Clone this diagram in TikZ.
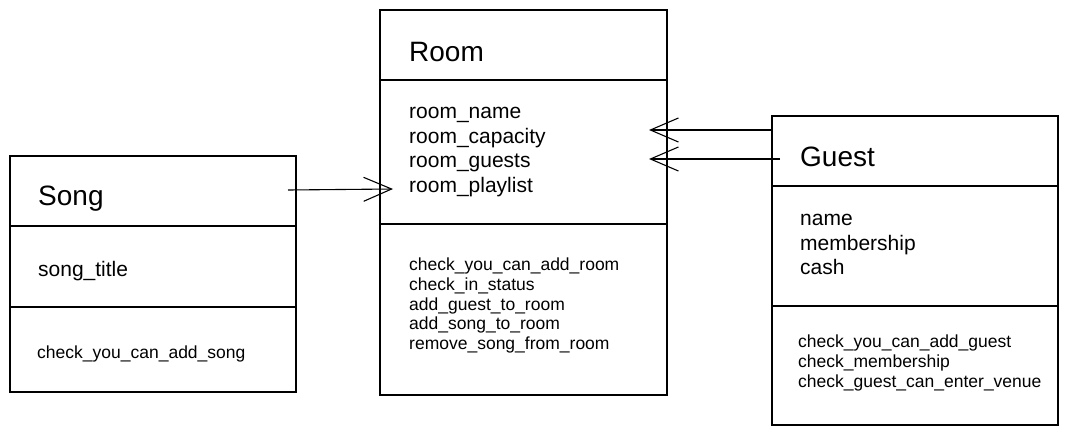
\documentclass[tikz,border=0pt]{standalone}
\usepackage{fontspec}
\setmainfont{Liberation Sans}
\usetikzlibrary{arrows.meta}
\begin{document}
\begin{tikzpicture}[x=1pt,y=-1pt,
  sect/.style={draw, rectangle, inner sep=0pt, outer sep=0pt, line width=1.2pt, anchor=north west},
  ttl/.style={anchor=west, inner sep=0pt, font=\fontsize{28}{30}\selectfont},
  attr/.style={anchor=west, inner sep=0pt, align=left, font=\fontsize{21}{24.5}\selectfont},
  meth/.style={anchor=west, inner sep=0pt, align=left, font=\fontsize{17.5}{19.6}\selectfont},
  arr/.style={line width=1.1pt, -{Straight Barb[length=28pt, width=24pt, line width=1.1pt]}}]
\useasboundingbox[fill=white] (0,0) rectangle (1067,436);
% Song
\node[sect, minimum width=286pt, minimum height=70pt] (songH) at (10,156) {};
\node[sect, minimum width=286pt, minimum height=81pt] (songA) at (10,226) {};
\node[sect, minimum width=286pt, minimum height=85pt] (songM) at (10,307) {};
\node[ttl] (songT) at (38,199) {Song};
\node[attr] (songAt) at (38,271) {song\_title};
\node[meth] (songMt) at (37,354) {check\_you\_can\_add\_song};
% Room
\node[sect, minimum width=287pt, minimum height=70pt] (roomH) at (380,10) {};
\node[sect, minimum width=287pt, minimum height=144pt] (roomA) at (380,80) {};
\node[sect, minimum width=287pt, minimum height=171pt] (roomM) at (380,224) {};
\node[ttl] (roomT) at (409,52) {Room};
\node[attr] (roomAt) at (409,152) {room\_name\\room\_capacity\\room\_guests\\room\_playlist};
\node[meth] (roomMt) at (409,305.5) {check\_you\_can\_add\_room\\check\_in\_status\\add\_guest\_to\_room\\add\_song\_to\_room\\remove\_song\_from\_room};
% Guest
\node[sect, minimum width=286pt, minimum height=70pt] (guestH) at (772,116) {};
\node[sect, minimum width=286pt, minimum height=120pt] (guestA) at (772,186) {};
\node[sect, minimum width=286pt, minimum height=119pt] (guestM) at (772,306) {};
\node[ttl] (guestT) at (800,157) {Guest};
\node[attr] (guestAt) at (800,244.5) {name\\membership\\cash};
\node[meth] (guestMt) at (798,363) {check\_you\_can\_add\_guest\\check\_membership\\check\_guest\_can\_enter\_venue};
% connectors
\coordinate (s1) at (288,190);
\coordinate (r1) at (393,189);
\coordinate (g1) at (773,130);
\coordinate (r2) at (649,130);
\coordinate (g2) at (780,159);
\coordinate (r3) at (649,159);
\draw[arr] (s1) -- (r1);
\draw[arr] (g1) -- (r2);
\draw[arr] (g2) -- (r3);
\end{tikzpicture}
\end{document}
